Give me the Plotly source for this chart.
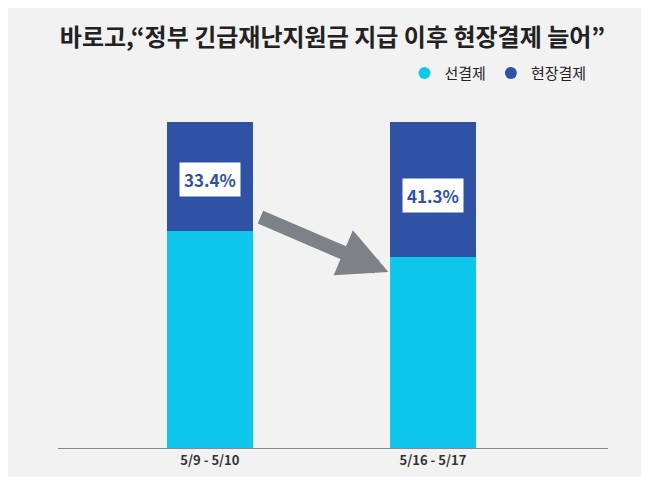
import plotly.graph_objects as go

categories = ["5/9 - 5/10", "5/16 - 5/17"]
onsite = [33.4, 41.3]
prepaid = [66.6, 58.7]
labels = ["33.4%", "41.3%"]

fig = go.Figure()
fig.add_bar(x=[0, 1], y=prepaid, name="선결제", marker_color="#0fc6ec", width=0.386, marker_line_width=0, showlegend=False)
fig.add_bar(x=[0, 1], y=onsite, name="현장결제", marker_color="#2f52a5", width=0.386, marker_line_width=0, showlegend=False)
fig.add_scatter(x=[None], y=[None], mode="markers", name="현장결제", marker=dict(symbol="circle", size=13, color="#2f52a5"))
fig.add_scatter(x=[None], y=[None], mode="markers", name="선결제", marker=dict(symbol="circle", size=13, color="#0fc6ec"))

for i in range(2):
    fig.add_annotation(x=i, y=[82.5, 77.5][i], text="<b>"+labels[i]+"</b>", showarrow=False,
                       font=dict(size=17, color="#2f52a5", family="Noto Sans CJK KR"),
                       bgcolor="white", borderpad=4)
fig.add_annotation(x=0.8, y=54, ax=0.22, ay=71, axref="x", ayref="y", xref="x", yref="y",
                   text="", showarrow=True, arrowhead=2, arrowsize=0.7, arrowwidth=14,
                   arrowcolor="#7d8288")

fig.update_layout(
    width=649, height=477, barmode="stack",
    paper_bgcolor="#f2f2f2", plot_bgcolor="#f2f2f2",
    margin=dict(l=50, r=49, t=114, b=37),
    font=dict(family="Noto Sans CJK KR", color="#222"),
    title=dict(text="<b>바로고,“정부 긴급재난지원금 지급 이후 현장결제 늘어”</b>", x=0.5, y=0.955,
               xanchor="center", font=dict(size=24, color="#222")),
    legend=dict(orientation="h", x=0.97, xanchor="right", y=1.2, yanchor="top",
                font=dict(size=15), itemsizing="constant"),
    xaxis=dict(range=[-0.681, 1.785], tickvals=[0, 1], ticktext=["<b>"+c+"</b>" for c in categories],
               showline=True, linecolor="#888", linewidth=1, showgrid=False, zeroline=False,
               tickfont=dict(size=13, color="#333")),
    yaxis=dict(range=[0, 100], visible=False),
)
fig.write_html("out.html")
